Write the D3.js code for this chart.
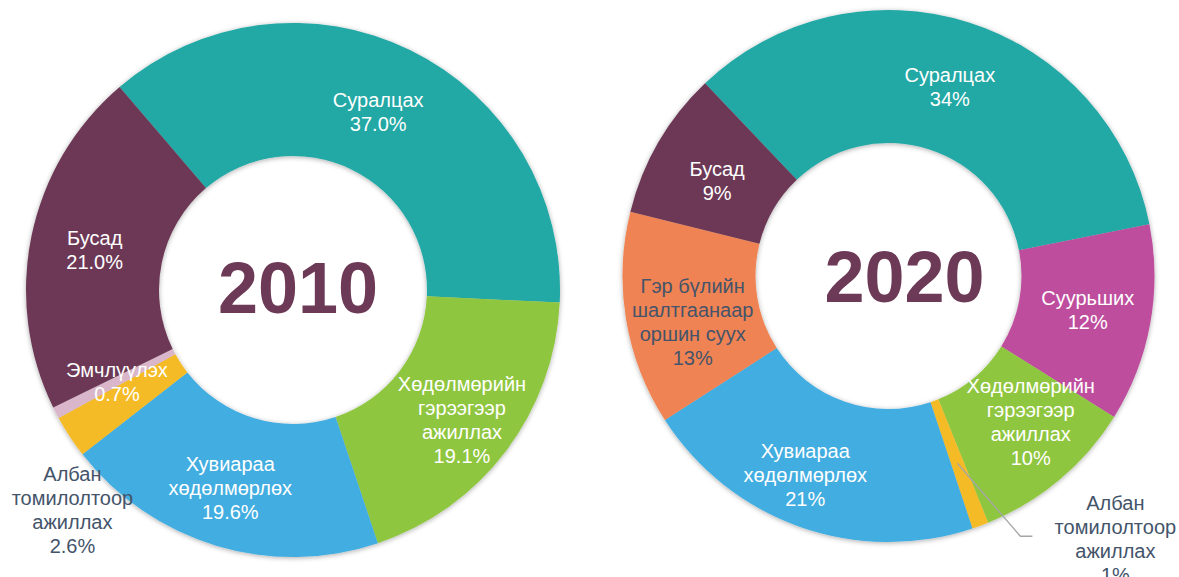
<!DOCTYPE html>
<html>
<head>
<meta charset="utf-8">
<script src="https://cdn.jsdelivr.net/npm/d3@7"></script>
<style>
  body { margin: 0; background: #ffffff; }
  svg { display: block; }
</style>
</head>
<body>
<svg id="chart" width="1179" height="577"></svg>
<script>
// Reasons for residence, share of respondents (%)
const years = ["2010", "2020"];

const categories2010 = ["Суралцах", "Хөдөлмөрийн гэрээгээр ажиллах", "Хувиараа хөдөлмөрлөх",
  "Албан томилолтоор ажиллах", "Эмчлүүлэх", "Бусад"];
const values2010 = [37.0, 19.1, 19.6, 2.6, 0.7, 21.0];

const categories2020 = ["Суралцах", "Суурьших", "Хөдөлмөрийн гэрээгээр ажиллах",
  "Албан томилолтоор ажиллах", "Хувиараа хөдөлмөрлөх", "Гэр бүлийн шалтгаанаар оршин суух", "Бусад"];
const values2020 = [34, 12, 10, 1, 21, 13, 9];

// How each category name is broken into lines inside its label
const labelLines = {
  "Суралцах": ["Суралцах"],
  "Хөдөлмөрийн гэрээгээр ажиллах": ["Хөдөлмөрийн", "гэрээгээр", "ажиллах"],
  "Хувиараа хөдөлмөрлөх": ["Хувиараа", "хөдөлмөрлөх"],
  "Албан томилолтоор ажиллах": ["Албан", "томилолтоор", "ажиллах"],
  "Эмчлүүлэх": ["Эмчлүүлэх"],
  "Бусад": ["Бусад"],
  "Суурьших": ["Суурьших"],
  "Гэр бүлийн шалтгаанаар оршин суух": ["Гэр бүлийн", "шалтгаанаар", "оршин суух"]
};

const allCategories = ["Суралцах", "Хөдөлмөрийн гэрээгээр ажиллах", "Хувиараа хөдөлмөрлөх",
  "Албан томилолтоор ажиллах", "Эмчлүүлэх", "Бусад", "Суурьших", "Гэр бүлийн шалтгаанаар оршин суух"];
const color = d3.scaleOrdinal()
  .domain(allCategories)
  .range(["#21a8a5", "#8fc63f", "#42ade0", "#f5bb26", "#d9b6c9", "#6c3956", "#be4e9d", "#f08352"]);

const DARK = "#44546a";
const deg = Math.PI / 180;

// Layout of each donut: centre, radii, first slice angle, label adjustments
const layouts = [
  {
    cx: 293, cy: 290, outer: 267, inner: 134, start: -40.5 * deg,
    yearDx: 5, yearDy: 23, decimals: 1,
    nudge: {
      "Суралцах": [-3, 2],
      "Хөдөлмөрийн гэрээгээр ажиллах": [9, 9],
      "Хувиараа хөдөлмөрлөх": [-5, 6],
      "Албан томилолтоор ажиллах": [-53, 110],
      "Эмчлүүлэх": [2, 0],
      "Бусад": [-2, 1]
    },
    dark: ["Албан томилолтоор ажиллах"],
    leader: []
  },
  {
    cx: 888.5, cy: 276, outer: 266, inner: 133, start: -43.6 * deg,
    yearDx: 16, yearDy: 26, decimals: 0,
    nudge: {
      "Суралцах": [1, 1],
      "Суурьших": [3, -2],
      "Хөдөлмөрийн гэрээгээр ажиллах": [14, -7],
      "Албан томилолтоор ажиллах": [158, 76],
      "Хувиараа хөдөлмөрлөх": [-17, 11],
      "Гэр бүлийн шалтгаанаар оршин суух": [1, 13],
      "Бусад": [1, 5]
    },
    dark: ["Албан томилолтоор ажиллах", "Гэр бүлийн шалтгаанаар оршин суух"],
    leader: ["Албан томилолтоор ажиллах"]
  }
];

const svg = d3.select("#chart");

// Soft shadow around the rings
const defs = svg.append("defs");
const shadow = defs.append("filter").attr("id", "ringShadow")
  .attr("x", "-10%").attr("y", "-10%").attr("width", "120%").attr("height", "120%");
shadow.append("feDropShadow")
  .attr("dx", 0).attr("dy", 1).attr("stdDeviation", 2.6)
  .attr("flood-color", "#000").attr("flood-opacity", 0.33);

const datasets = [
  categories2010.map((c, i) => ({ category: c, value: values2010[i] })),
  categories2020.map((c, i) => ({ category: c, value: values2020[i] }))
];

datasets.forEach((data, k) => {
  const L = layouts[k];
  const g = svg.append("g").attr("transform", `translate(${L.cx},${L.cy})`);

  const pie = d3.pie().sort(null).value(d => d.value)
    .startAngle(L.start).endAngle(L.start + 2 * Math.PI);
  const arc = d3.arc().innerRadius(L.inner).outerRadius(L.outer);
  const arcs = pie(data);

  g.append("g").attr("filter", "url(#ringShadow)")
    .selectAll("path").data(arcs).join("path")
    .attr("d", arc)
    .attr("fill", d => color(d.data.category));

  // Leader lines for labels placed outside the ring
  arcs.filter(d => L.leader.includes(d.data.category)).forEach(d => {
    const [x0, y0] = arc.centroid(d);
    const n = L.nudge[d.data.category];
    const lx = x0 + n[0], ly = y0 + n[1];
    g.append("polyline")
      .attr("points", [[x0, y0], [lx - 95, ly - 3], [lx - 83, ly - 3]].map(p => p.join(",")).join(" "))
      .attr("fill", "none")
      .attr("stroke", "#a6a6a6")
      .attr("stroke-width", 1.3);
  });

  // Slice labels: category name and share
  const lineH = 24;
  arcs.forEach(d => {
    const cat = d.data.category;
    const [x0, y0] = arc.centroid(d);
    const n = L.nudge[cat] || [0, 0];
    const x = x0 + n[0], y = y0 + n[1];
    const lines = labelLines[cat].concat([d.data.value.toFixed(L.decimals) + "%"]);
    const top = y - (lines.length - 1) * lineH / 2 + 7;
    const t = g.append("text")
      .attr("text-anchor", "middle")
      .attr("font-family", "'Liberation Sans', Arial, sans-serif")
      .attr("font-size", 20)
      .attr("fill", L.dark.includes(cat) ? DARK : "#ffffff");
    lines.forEach((s, i) => {
      t.append("tspan").attr("x", x).attr("y", top + i * lineH).text(s);
    });
  });

  // Year in the hole of the donut
  g.append("text")
    .attr("x", L.yearDx).attr("y", L.yearDy)
    .attr("text-anchor", "middle")
    .attr("font-family", "'Liberation Sans', Arial, sans-serif")
    .attr("font-weight", "bold")
    .attr("font-size", 72)
    .attr("fill", "#6c3956")
    .text(years[k]);
});
</script>
</body>
</html>
